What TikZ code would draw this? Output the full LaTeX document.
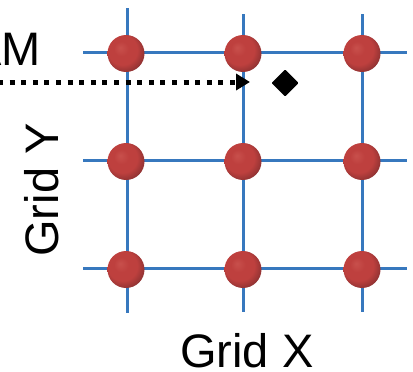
\documentclass[tikz,border=0pt]{standalone}
\usepackage{fontspec}
\setmainfont{Liberation Sans}
\usetikzlibrary{shapes.geometric,arrows.meta}
\definecolor{gridblue}{RGB}{55,120,190}
\definecolor{sphA}{RGB}{200,80,76}
\definecolor{sphB}{RGB}{190,64,62}
\definecolor{sphC}{RGB}{150,52,52}
\definecolor{sphD}{RGB}{88,38,38}
\pgfdeclareradialshading{sphereshade}{\pgfpoint{-8bp}{8bp}}{color(0bp)=(sphA); color(10bp)=(sphB); color(20bp)=(sphB); color(28bp)=(sphC); color(35bp)=(sphD); color(50bp)=(sphD)}
\tikzset{
  gridline/.style={draw=gridblue, line width=3pt},
  ball/.style={circle, minimum size=37pt, inner sep=0pt, shading=sphereshade},
  lbl/.style={font=\fontsize{47}{50}\selectfont, inner sep=0pt},
  dotarrow/.style={line width=5pt, dash pattern=on 5pt off 6.6pt, -{Triangle[length=14pt,width=16pt]}},
}
\begin{document}
\begin{tikzpicture}[x=1pt,y=-1pt]
\useasboundingbox (0,0) rectangle (413,372);
% grid lines
\draw[gridline] (127,8) -- (127,313);
\draw[gridline] (243,14) -- (243,312);
\draw[gridline] (362,14) -- (362,312);
\draw[gridline] (83,52) -- (407,52);
\draw[gridline] (83,160) -- (407,160);
\draw[gridline] (83,268) -- (407,268);
% spheres
\foreach \cx/\nx in {126/1,243/2,362/3}{
  \foreach \cy/\ny in {53.5/1,161.5/2,269.5/3}{
    \node[ball] (s\nx\ny) at (\cx,\cy) {};
  }
}
% diamond and arrow
\node[diamond, fill=black, draw=black, line join=round, line width=2pt, minimum size=25pt, inner sep=0pt] (dmd) at (285,83) {};
\coordinate (astart) at (-2,82);
\draw[dotarrow, shorten >=35pt] (astart) -- (dmd.center |- astart);
% labels
\node[lbl, anchor=base east] (am) at (41,65) {AM};
\node[lbl, anchor=base west] (gx) at (180,367) {Grid X};
\node[lbl, anchor=base, rotate=90] (gy) at (59,190) {Grid Y};
\end{tikzpicture}
\end{document}
